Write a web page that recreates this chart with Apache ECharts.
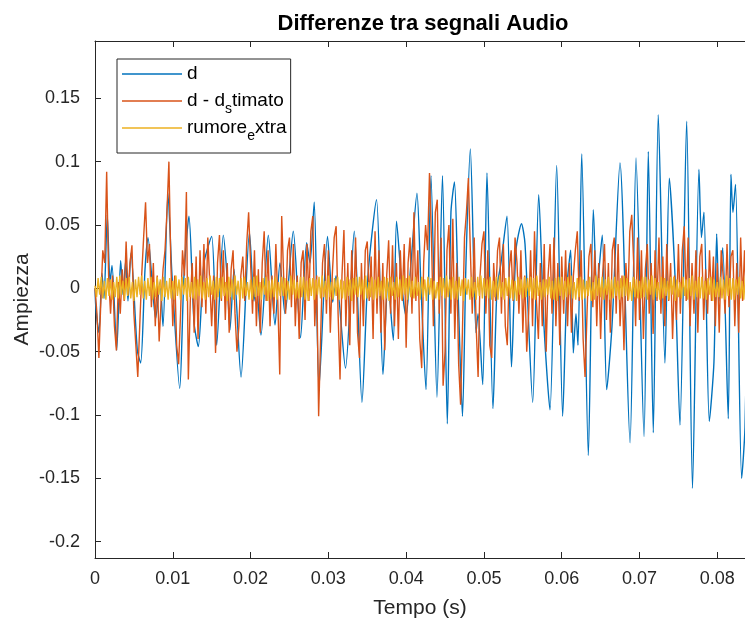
<!DOCTYPE html>
<html>
<head>
<meta charset="utf-8">
<script src="https://cdn.jsdelivr.net/npm/echarts@6/dist/echarts.min.js"></script>
<style>html,body{margin:0;padding:0;background:#fff;}#c{width:745px;height:619px;}</style>
</head>
<body>
<div id="c"></div>
<script>
// ---- data ----
const titleText = 'Differenze tra segnali Audio';
const xName = 'Tempo (s)';
const yName = 'Ampiezza';
const seriesNames = ['d', 'd - d_stimato', 'rumore_extra'];
const xTicks = [0, 0.01, 0.02, 0.03, 0.04, 0.05, 0.06, 0.07, 0.08];
const yTicks = [-0.2, -0.15, -0.1, -0.05, 0, 0.05, 0.1, 0.15];

// d : turning points (time in s, amplitude)
const dTime = [0,.00013,.00051,.0009,.00116,.00158,.00193,.00219,.00279,.0033,.0036,.00395,.00424,.00463,.00544,.00587,.00643,.00681,.0078,.00836,.00874,.00938,.0099,.01089,.01144,.01208,.01273,.01328,.01401,.015,.01564,.01649,.01697,.01735,.01787,.01877,.01986,.02044,.0207,.02134,.02228,.02314,.02378,.02442,.02549,.02642,.02721,.02764,.02818,.0288,.02989,.03056,.03098,.0322,.03333,.03432,.03509,.03619,.03702,.03767,.03835,.03876,.03947,.03998,.04062,.04139,.04191,.04255,.04319,.04396,.04467,.04529,.04576,.04621,.04666,.04724,.04769,.04825,.04898,.04924,.04984,.05039,.05116,.05168,.05219,.05296,.05354,.05412,.05483,.05528,.05627,.05704,.05772,.05849,.05935,.06012,.06066,.06115,.06149,.06183,.06209,.06257,.06342,.06406,.06453,.06521,.06578,.06646,.06749,.06878,.06955,.07058,.07113,.07177,.07241,.07327,.07383,.07456,.0752,.07606,.07681,.07764,.07796,.07828,.07897,.07957,.07992,.08022,.08069,.08141,.08175,.08201,.08234,.08313,.08356,.08395];
const dValue = [0,-.017,-.035,.012,-.008,.058,.005,.018,-.049,.022,-.005,.022,-.01,.028,-.049,-.059,.015,.04,-.024,.005,-.03,.075,.01,-.079,.01,.057,-.027,-.046,.02,.041,-.045,.042,.01,-.033,.015,-.07,.044,-.01,.005,-.037,.042,-.029,.02,-.02,.045,-.039,.036,.02,.068,-.078,.041,-.011,.01,-.063,.045,-.09,.01,.07,-.068,.005,-.041,.053,0,-.022,.02,.075,0,-.08,.089,-.086,.089,-.107,.06,.084,0,-.101,.02,.11,-.035,-.02,-.076,.091,-.095,0,.02,.057,-.062,.03,.051,.035,-.09,.074,-.03,-.096,.097,-.101,0,.03,-.051,-.02,-.045,.106,-.132,.062,0,.042,-.08,-.03,.099,-.122,.103,-.117,.108,-.114,.137,-.059,.087,.01,-.108,.132,-.158,.094,.04,.06,-.105,-.058,.043,-.01,.032,-.103,.09,.06,.082,-.15,-.11,.02];

// d - d_stimato : sampled every 0.25 ms
const errStep = 0.00025;
const errValue = [
0,-.02,-.055,-.01, .03,.02,.092,.01, -.02,.01,-.03,-.049, .005,-.02,.015,-.01,
.037,-.005,.02,.034, -.02,-.045,-.07,-.03, .01,.04,.068,.02, .035,-.015,.02,-.03,
.01,-.042,-.01,.015, .03,.06,.1,.02, -.03,.01,-.045,-.06, -.02,.03,.01,.076,
-.072,-.01,.02,-.035, .025,-.04,.03,-.015, .035,-.02,.04,.005, -.03,.01,-.051,.02,
.042,-.01,.03,-.025, .02,-.035,.015,.03, -.02,-.05,-.03,.01, .025,-.01,.035,.06,
.02,-.02,.03,-.03, .015,-.035,.02,.045, -.01,.03,-.03,.01, -.02,.035,-.01,-.068,
.057,.01,-.02,.03, .04,-.015,.035,-.03, .01,-.04,.02,.03, -.025,.035,-.01,.045,
.057,-.03,.01,-.101, -.04,.02,.035,-.02, .03,-.035,.01,.04, .049,-.02,-.072,.01,
.046,-.03,.02,-.045, .03,-.02,.04,-.035, -.055,.02,-.03,.03, .037,-.01,.025,-.04,
.045,-.02,.03,-.035, .02,-.049,.01,.038, -.02,.034,-.03,.02, -.04,.03,-.01,.035,
-.047,.02,.04,-.02, .06,-.01,.03,-.04, -.063,.02,.05,.03, .091,.04,-.03,.06,
.07,-.02,.04,-.077, -.05,.03,.05,-.02, .055,-.04,.02,-.06, -.092,-.03,.04,.06,
.087,.03,-.02,.04, -.03,-.07,.01,.035, .045,-.02,.03,-.045, -.055,.02,-.01,.03,
.04,-.02,.035,-.03, -.045,.015,.03,-.01, .04,.02,-.02,.03, -.035,.01,-.05,-.02,
.03,-.03,.045,-.01, -.04,.02,-.03,.035, -.05,.01,.035,-.02, .04,-.03,.02,-.045,
.025,-.02,.03,-.03, .02,-.035,.01,.03, .045,-.01,.03,-.04, -.07,-.02,.025,.035,
-.015,.03,-.03,.02, -.04,.01,.035,-.025, .02,-.035,.03,.04, -.02,.035,-.03,.01,
-.049,.02,-.01,.045, .058,.02,-.03,.04, -.025,.03,-.04,.015, .035,-.02,.02,-.036,
.03,-.01,.04,-.02, .025,-.03,.035,-.01, .02,-.04,.01,-.025, .035,-.02,.03,.049,
-.01,.04,-.03,.02, -.02,.03,-.035,.025, .035,-.025,.015,-.02, .03,-.01,.025,-.03,
.02,-.035,.03,.01, -.02,.035,-.015,.025, .03,-.03,.02,-.035, .04,-.01,.03,-.02,
.025,-.03,.02,.01, -.02,.03,-.01,.02];

// rumore_extra : sampled every 0.2 ms
const noiseStep = 0.0002;
const noiseValue = [
.002,-.007,.008,-.005,.009,-.008,.006,-.009,.008,-.006,
.007,-.009,.005,-.007,.009,-.008,.01,-.005,.006,-.009,
.008,-.006,.009,-.008,.005,-.01,.007,-.007,.009,-.005,
.01,-.008,.006,-.009,.008,-.006,.009,-.009,.005,-.007,
.009,-.005,.007,-.01,.009,-.007,.006,-.009,.008,-.008,
.006,-.009,.01,-.006,.007,-.009,.009,-.005,.008,-.01,
.009,-.007,.005,-.008,.009,-.009,.007,-.006,.01,-.008,
.005,-.009,.008,-.007,.01,-.005,.006,-.009,.009,-.007,
.008,-.008,.009,-.006,.005,-.01,.009,-.007,.007,-.009,
.01,-.005,.006,-.009,.008,-.008,.009,-.006,.005,-.009,
.007,-.009,.009,-.007,.01,-.006,.005,-.009,.008,-.005,
.009,-.01,.006,-.008,.007,-.007,.009,-.009,.005,-.006,
.009,-.006,.008,-.009,.006,-.009,.01,-.005,.007,-.008,
.005,-.008,.009,-.007,.009,-.009,.006,-.01,.008,-.006,
.008,-.009,.007,-.005,.009,-.008,.01,-.007,.006,-.009,
.01,-.007,.005,-.009,.008,-.006,.009,-.009,.007,-.008,
.006,-.009,.009,-.006,.007,-.01,.008,-.005,.009,-.007,
.009,-.005,.007,-.009,.01,-.008,.005,-.007,.009,-.009,
.007,-.008,.009,-.006,.006,-.009,.009,-.008,.008,-.01,
.009,-.006,.005,-.009,.009,-.007,.007,-.009,.01,-.005,
.008,-.009,.01,-.007,.006,-.008,.009,-.006,.005,-.009,
.009,-.007,.007,-.01,.009,-.005,.008,-.009,.006,-.008,
.005,-.009,.009,-.006,.008,-.008,.01,-.007,.007,-.009,
.009,-.008,.006,-.009,.009,-.006,.007,-.01,.008,-.005,
.007,-.009,.009,-.007,.005,-.009,.009,-.006,.01,-.008,
.008,-.006,.007,-.008,.009,-.009,.006,-.007,.009,-.009,
.01,-.007,.005,-.009,.008,-.006,.009,-.008,.007,-.009,
.006,-.01,.009,-.005,.007,-.008,.009,-.007,.008,-.006,
.009,-.008,.008,-.009,.01,-.006,.005,-.009,.007,-.007,
.007,-.005,.009,-.008,.006,-.009,.008,-.01,.009,-.006,
.009,-.009,.006,-.007,.009,-.005,.01,-.008,.005,-.009,
.008,-.007,.009,-.009,.007,-.008,.006,-.006,.009,-.01,
.005,-.009,.01,-.006,.008,-.007,.009,-.009,.007,-.005,
.009,-.009,.007,-.008,.009,-.006,.006,-.009,.008,-.007,
.01,-.006,.008,-.009,.005,-.01,.009,-.007,.007,-.008,
.006,-.008,.009,-.007,.009,-.009,.007,-.005,.01,-.009,
.008,-.007,.005,-.009,.009,-.008,.008,-.006,.006,-.009,
.009,-.005,.009,-.01,.007,-.007,.005,-.008,.009,-.006,
.007,-.009,.008,-.006,.01,-.009,.006,-.007,.009,-.008,
.009,-.008,.006,-.009,.008,-.005,.009,-.01,.007,-.007,
.005,-.007,.009,-.008,.007,-.009,.01,-.006,.008,-.009,
.008,-.009,.007,-.005,.009,-.008,.006,-.009,.009,-.007,
.009,-.006,.008,-.009,.005,-.007,.009,-.008,.007,-.009,
.006];

const colors = ['#0072BD', '#D95319', '#EDB120'];

// ---- build series data ----
const dData = dTime.map((t, i) => [t, dValue[i]]);
const errData = errValue.map((v, i) => [i * errStep, v]);
const noiseData = noiseValue.map((v, i) => [i * noiseStep, v]);

const FONT = 'Liberation Sans, Arial, Helvetica, sans-serif';
const AX = '#262626';
const xMin = 0, xMax = 0.08356;
const yMin = -0.21295, yMax = 0.19526;

const chart = echarts.init(document.getElementById('c'), null, {renderer: 'canvas'});
const subRich = {
  t: {fontSize: 19, fontFamily: FONT, color: '#000', lineHeight: 20},
  s: {fontSize: 14, fontFamily: FONT, color: '#000', lineHeight: 4, verticalAlign: 'top', padding: [11, 0, 0, 0]}
};
chart.setOption({
  animation: false,
  backgroundColor: '#fff',
  title: {
    text: titleText, left: 418, top: 8, textAlign: 'center',
    textStyle: {fontFamily: FONT, fontSize: 22, fontWeight: 'bold', color: '#000'}
  },
  legend: {
    orient: 'vertical', left: 117, top: 59,
    padding: [5, 4, 10, 5], itemGap: 2, itemWidth: 60, itemHeight: 1.5, itemTextGap: 5,
    icon: 'rect',
    borderColor: AX, borderWidth: 1, backgroundColor: '#fff',
    data: seriesNames,
    formatter: function (name) {
      if (name === seriesNames[1]) return '{t|d - d}{s|s}{t|timato}';
      if (name === seriesNames[2]) return '{t|rumore}{s|e}{t|xtra}';
      return '{t|' + name + '}{s| }';
    },
    textStyle: {rich: subRich, fontFamily: FONT, fontSize: 19, color: '#000'}
  },
  grid: {left: 95, top: 41, right: 0, bottom: 61, containLabel: false, outerBoundsMode: 'none'},
  xAxis: [{
    type: 'value', min: xMin, max: xMax, position: 'bottom',
    name: xName, nameLocation: 'middle', nameGap: 40, nameMoveOverlap: false,
    nameTextStyle: {fontFamily: FONT, fontSize: 21, color: AX},
    axisLine: {show: true, onZero: false, lineStyle: {color: AX, width: 1}},
    axisTick: {show: true, inside: true, length: 6, lineStyle: {color: AX}, customValues: xTicks},
    axisLabel: {fontFamily: FONT, fontSize: 18, color: AX, margin: 12, customValues: xTicks,
      formatter: v => String(Math.round(v * 100) / 100)},
    splitLine: {show: false}
  }, {
    type: 'value', min: xMin, max: xMax, position: 'top',
    axisLine: {show: true, onZero: false, lineStyle: {color: AX, width: 1}},
    axisTick: {show: true, inside: true, length: 6, lineStyle: {color: AX}, customValues: xTicks},
    axisLabel: {show: false},
    splitLine: {show: false}
  }],
  yAxis: [{
    type: 'value', min: yMin, max: yMax, position: 'left',
    name: yName, nameLocation: 'middle', nameGap: 62, nameRotate: 90, nameMoveOverlap: false,
    nameTextStyle: {fontFamily: FONT, fontSize: 21, color: AX},
    axisLine: {show: true, onZero: false, lineStyle: {color: AX, width: 1}},
    axisTick: {show: true, inside: true, length: 6, lineStyle: {color: AX}, customValues: yTicks},
    axisLabel: {fontFamily: FONT, fontSize: 18, color: AX, margin: 15, customValues: yTicks,
      formatter: v => String(Math.round(v * 100) / 100)},
    splitLine: {show: false}
  }],
  series: [
    {name: seriesNames[0], type: 'line', data: dData, symbol: 'none', smooth: 0.25, lineStyle: {color: colors[0], width: 1.4}, itemStyle: {color: colors[0]}, z: 2},
    {name: seriesNames[1], type: 'line', data: errData, symbol: 'none', lineStyle: {color: colors[1], width: 1.4}, itemStyle: {color: colors[1]}, z: 3},
    {name: seriesNames[2], type: 'line', data: noiseData, symbol: 'none', lineStyle: {color: colors[2], width: 1.4}, itemStyle: {color: colors[2]}, z: 4}
  ]
});
</script>
</body>
</html>
